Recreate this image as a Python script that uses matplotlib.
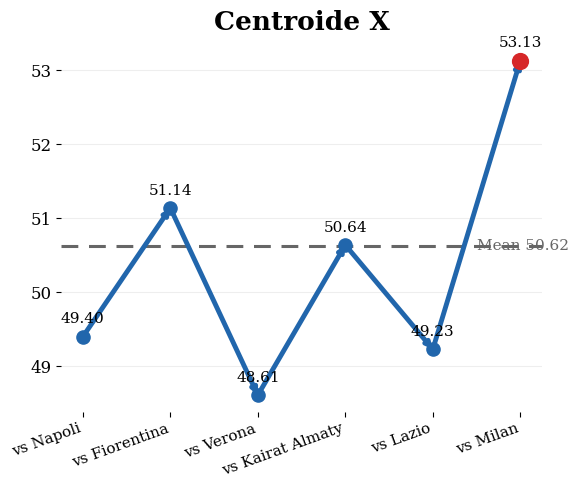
import matplotlib
matplotlib.use("Agg")
import matplotlib.pyplot as plt

plt.rcParams['font.family'] = 'DejaVu Serif'

# data
opponents = ["vs Napoli", "vs Fiorentina", "vs Verona", "vs Kairat Almaty", "vs Lazio", "vs Milan"]
centroid_x = [49.40, 51.14, 48.61, 50.64, 49.23, 53.13]
mean_value = 50.62

blue = '#2166ac'
red = '#d62728'

fig, ax = plt.subplots(figsize=(5.78, 4.8), dpi=100)
fig.subplots_adjust(left=0.1055, right=0.938, top=0.908, bottom=0.142)

xs = list(range(len(opponents)))

# invisible line to set the limits with default margins
ax.plot(xs, centroid_x, alpha=0)

# arrows between consecutive matches
for i in range(len(xs) - 1):
    ax.annotate('', xy=(xs[i + 1], centroid_x[i + 1]), xytext=(xs[i], centroid_x[i]),
                arrowprops=dict(arrowstyle='->', color=blue, lw=3.5, mutation_scale=8,
                                shrinkA=1, shrinkB=0), zorder=2)

# last match highlighted
ax.scatter(xs[:-1], centroid_x[:-1], s=90, c=blue, zorder=3)
ax.scatter(xs[-1:], centroid_x[-1:], s=130, c=red, zorder=3)

for x, v in zip(xs, centroid_x):
    ax.annotate(f"{v:.2f}", (x, v), xytext=(0, 7.5), textcoords='offset points',
                ha='center', va='bottom', fontsize=11)

ax.axhline(mean_value, color='#666666', ls='--', lw=2.2, dashes=(5.5, 3.5), zorder=1)
ax.text(len(xs) - 1.5, mean_value, f"Mean {mean_value:.2f}", color='#666666',
        fontsize=11, va='center', ha='left')

ax.set_xticks(xs)
ax.set_xticklabels(opponents, rotation=20, ha='right', fontsize=11)
ax.tick_params(axis='y', labelsize=12)
ax.grid(axis='y', color='#eeeeee', lw=0.8)
ax.set_axisbelow(True)
for s in ax.spines.values():
    s.set_visible(False)

ax.set_title("Centroide X", fontsize=19, fontweight='bold', pad=10)

fig.savefig("out.png", dpi=100)
